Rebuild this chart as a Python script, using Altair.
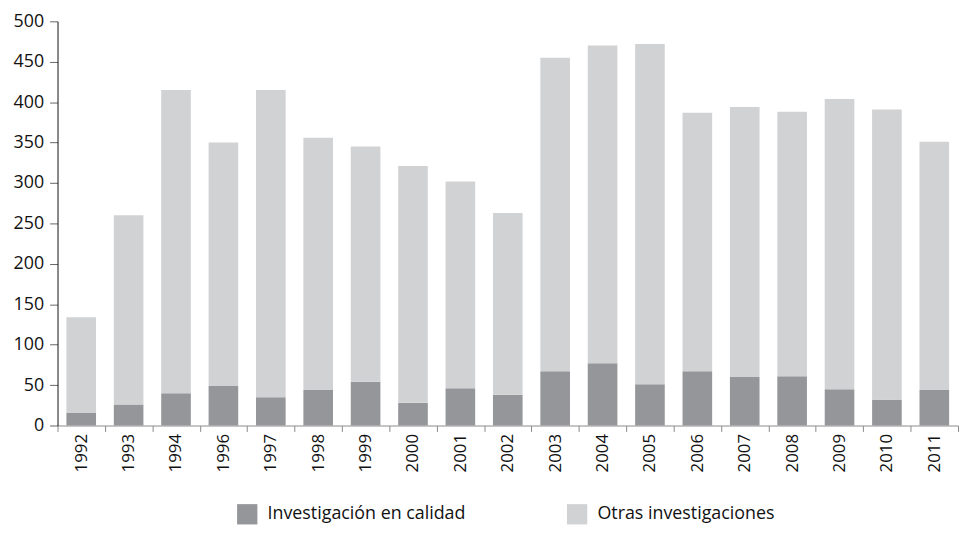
import altair as alt
import pandas as pd

years = ["1992", "1993", "1994", "1996", "1997", "1998", "1999", "2000", "2001",
         "2002", "2003", "2004", "2005", "2006", "2007", "2008", "2009", "2010", "2011"]
calidad = [16, 26, 40, 49, 35, 44, 54, 28, 46, 38, 67, 77, 51, 67, 60, 61, 45, 32, 44]
otras = [118, 234, 375, 301, 380, 312, 291, 293, 256, 225, 388, 393, 421, 320, 334, 327, 359, 359, 307]
series = ["Investigación en calidad", "Otras investigaciones"]
colors = ["#959699", "#d1d2d4"]

rows = []
for i, y in enumerate(years):
    rows.append({"year": y, "serie": series[0], "value": calidad[i], "orden": 0})
    rows.append({"year": y, "serie": series[1], "value": otras[i], "orden": 1})
df = pd.DataFrame(rows)

FONT = "Open Sans"

chart = alt.Chart(df).mark_bar(width=alt.RelativeBandSize(0.625)).encode(
    x=alt.X("year:N", sort=years, title=None,
            scale=alt.Scale(paddingInner=0, paddingOuter=0),
            axis=alt.Axis(labelAngle=270, labelFontSize=17, labelColor="#111",
                          labelFont=FONT, labelPadding=2, labelBaseline="middle",
                          labelAlign="right",
                          domainColor="#8a8a8a", tickColor="#8a8a8a",
                          tickSize=6, tickBand="extent")),
    y=alt.Y("value:Q", stack="zero", title=None,
            scale=alt.Scale(domain=[0, 500], nice=False),
            axis=alt.Axis(values=list(range(0, 501, 50)), grid=False,
                          labelFontSize=18, labelFont=FONT, labelColor="#111",
                          labelPadding=6, tickSize=8, tickColor="#666",
                          domainColor="#111", minExtent=48, maxExtent=48)),
    color=alt.Color("serie:N", sort=series,
                    scale=alt.Scale(domain=series, range=colors),
                    legend=alt.Legend(title=None, orient="none", direction="horizontal",
                                      legendX=181, legendY=487,
                                      symbolType="square", symbolSize=420,
                                      symbolStrokeWidth=0, labelFontSize=18,
                                      labelFont=FONT, labelColor="#111",
                                      labelLimit=400,
                                      labelOffset=10, columnPadding=102)),
    order=alt.Order("orden:Q", sort="ascending"),
).properties(
    width=909, height=408,
    padding={"left": 2, "top": 2, "right": 0, "bottom": 0},
).configure_view(stroke=None)

chart.save("out.html", embed_options={"renderer": "svg", "actions": False})
